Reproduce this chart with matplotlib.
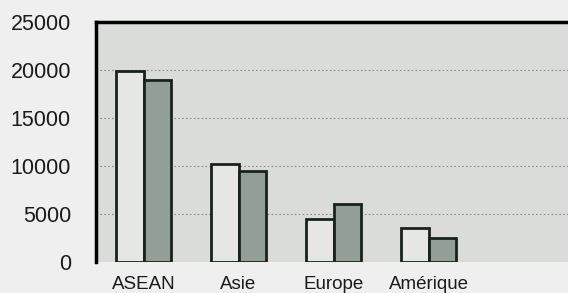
import matplotlib.pyplot as plt
import numpy as np

regions = ['ASEAN', 'Asie', 'Europe', 'Amérique']
serie_a = [19900, 10200, 4500, 3500]
serie_b = [19000, 9500, 6000, 2500]
yticks = [0, 5000, 10000, 15000, 20000, 25000]

plt.rcParams['font.family'] = ['Liberation Sans', 'DejaVu Sans']

fig = plt.figure(figsize=(5.68, 2.93), dpi=100)
fig.patch.set_facecolor('#eeefee')
ax = fig.add_axes([96 / 568, 31 / 293, 475 / 568, 240 / 293])
ax.set_facecolor('#d9dcd9')

x = np.arange(len(regions))
w = 0.29
ax.bar(x - w / 2, serie_a, w, color='#e4e7e4', edgecolor='#17231b', linewidth=2, zorder=3)
ax.bar(x + w / 2, serie_b, w, color='#929f97', edgecolor='#17231b', linewidth=2, zorder=3)

ax.set_ylim(0, 25000)
ax.set_xlim(-0.5, 4.5)
ax.set_yticks(yticks)
ax.set_yticklabels([str(v) for v in yticks])
ax.set_xticks(x)
ax.set_xticklabels(regions)
ax.tick_params(axis='y', length=0, pad=18, labelsize=15.5, colors='#1a1a1a')
ax.tick_params(axis='x', length=0, pad=10, labelsize=13.5, colors='#1a1a1a')
ax.grid(axis='y', linestyle=(0, (1.5, 2)), color='#8a8d8a', linewidth=0.8, zorder=1)

ax.spines['left'].set_linewidth(2.5)
ax.spines['top'].set_linewidth(2.5)
ax.spines['right'].set_visible(False)
ax.spines['bottom'].set_visible(False)

plt.savefig('out.png', dpi=100, facecolor=fig.get_facecolor())
